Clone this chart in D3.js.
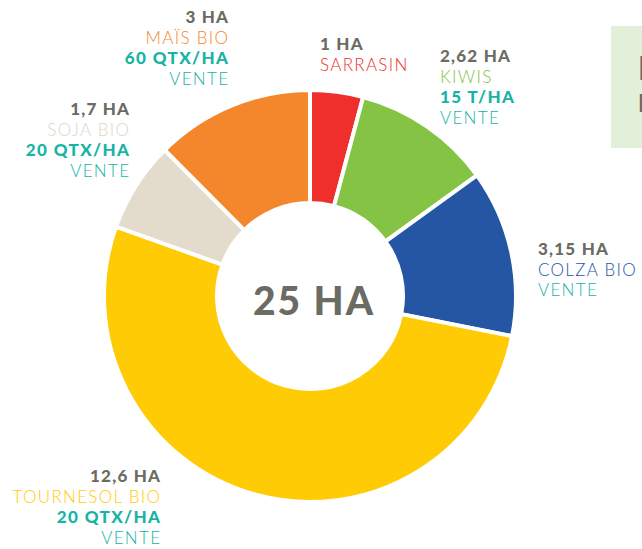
<!DOCTYPE html>
<html>
<head>
<meta charset="utf-8">
<script src="https://cdn.jsdelivr.net/npm/d3@7"></script>
<style>
  body { margin: 0; background: #fff; }
  svg { display: block; font-family: Lato, "Open Sans", sans-serif; }
</style>
</head>
<body>
<svg id="chart"></svg>
<script>
// Cultures, clockwise from the top
const crops = ['SARRASIN', 'KIWIS', 'COLZA BIO', 'TOURNESOL BIO', 'SOJA BIO', 'MAÏS BIO'];
const hectares = [1, 2.62, 3.15, 12.6, 1.7, 3];
const areaLabels = ['1 HA', '2,62 HA', '3,15 HA', '12,6 HA', '1,7 HA', '3 HA'];
const yieldLabels = ['', '15 T/HA', '', '20 QTX/HA', '20 QTX/HA', '60 QTX/HA'];
const useLabels = ['', 'VENTE', 'VENTE', 'VENTE', 'VENTE', 'VENTE'];
const totalLabel = '25 HA';
const colors = ['#ee2f2b', '#84c343', '#2456a4', '#ffcb05', '#e3dccd', '#f4862b'];

const width = 642;
const height = 549;
const cx = 310;
const cy = 296;
const outerRadius = 206;
const innerRadius = 93;

const grey = '#6b6b63';
const teal = '#17b3a6';

// label anchors: x, baseline of first line, anchor
const labelLayout = [
  { x: 320, y: 50, anchor: 'start' },
  { x: 440, y: 62, anchor: 'start' },
  { x: 538, y: 255, anchor: 'start' },
  { x: 160, y: 482, anchor: 'end' },
  { x: 129, y: 115, anchor: 'end' },
  { x: 228, y: 23, anchor: 'end' },
];
const lineHeight = 20.7;

const svg = d3.select('#chart')
  .attr('width', width)
  .attr('height', height);

// Green box, cut by the right edge
svg.append('rect')
  .attr('x', 611)
  .attr('y', 26)
  .attr('width', 60)
  .attr('height', 122)
  .attr('fill', '#e3f0d9');

svg.append('text')
  .attr('x', 638)
  .attr('y', 80)
  .attr('fill', grey)
  .attr('font-weight', 900)
  .attr('font-size', 32)
  .text('L');

svg.append('text')
  .attr('x', 638)
  .attr('y', 112)
  .attr('fill', grey)
  .attr('font-weight', 900)
  .attr('font-size', 24)
  .text('L');

const pie = d3.pie()
  .sort(null)
  .value((d) => d);

const arc = d3.arc()
  .innerRadius(innerRadius)
  .outerRadius(outerRadius);

const donut = svg.append('g')
  .attr('transform', `translate(${cx},${cy})`);

donut.selectAll('.slice')
  .data(pie(hectares))
  .join('path')
  .attr('class', 'slice')
  .attr('d', arc)
  .attr('fill', (d, i) => colors[i])
  .attr('stroke', '#fff')
  .attr('stroke-width', 4)
  .attr('stroke-linejoin', 'miter');

donut.append('text')
  .attr('x', 4)
  .attr('y', 19)
  .attr('text-anchor', 'middle')
  .attr('fill', grey)
  .attr('font-weight', 900)
  .attr('font-size', 39)
  .attr('letter-spacing', 2)
  .text(totalLabel);

// Labels
crops.forEach((crop, i) => {
  const pos = labelLayout[i];
  const lines = [
    { text: areaLabels[i], color: grey, weight: 900, ls: 1.2 },
    { text: crop, color: colors[i], weight: 300, ls: 1.3 },
    { text: yieldLabels[i], color: teal, weight: 900, ls: 1.4 },
    { text: useLabels[i], color: teal, weight: 300, ls: 1.3 },
  ].filter((l) => l.text !== '');

  const g = svg.append('g').attr('class', 'label');
  g.selectAll('text')
    .data(lines)
    .join('text')
    .attr('x', (d) => (pos.anchor === 'end' ? pos.x + d.ls : pos.x))
    .attr('y', (d, j) => pos.y + j * lineHeight)
    .attr('text-anchor', pos.anchor)
    .attr('fill', (d) => (d.color === '#e3dccd' ? '#ddd6c6' : d.color))
    .attr('font-weight', (d) => d.weight)
    .attr('font-size', 17)
    .attr('letter-spacing', (d) => d.ls)
    .text((d) => d.text);
});
</script>
</body>
</html>
